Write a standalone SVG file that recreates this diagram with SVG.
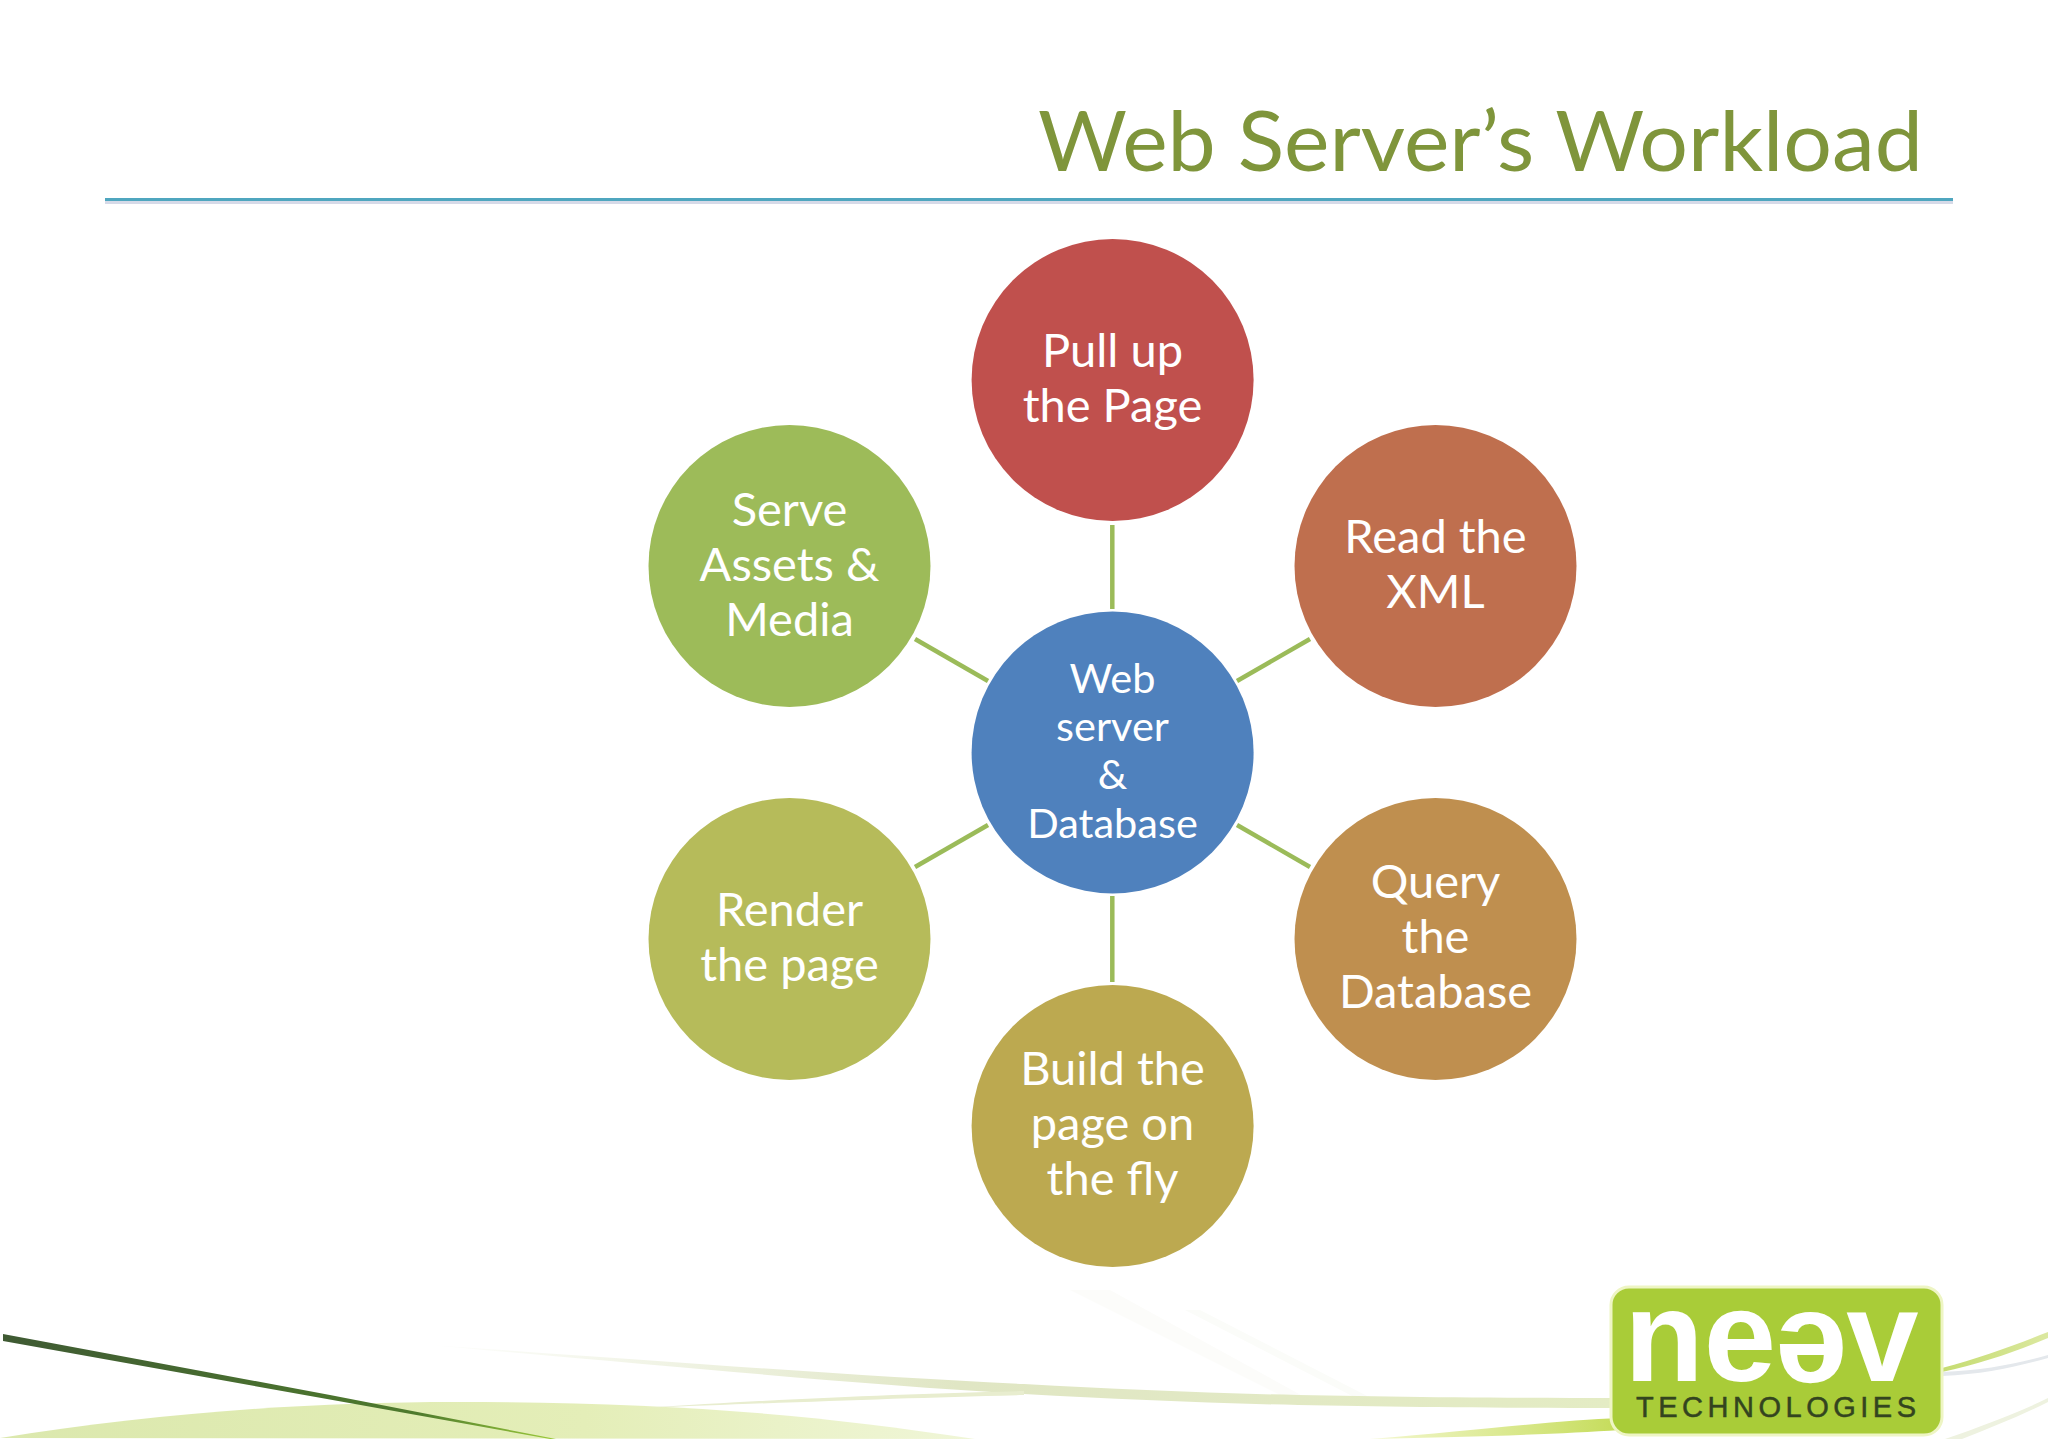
<svg xmlns="http://www.w3.org/2000/svg" width="2048" height="1439" viewBox="0 0 2048 1439">
<style>
text{font-family:"Lato","Carlito","Open Sans",sans-serif;text-anchor:middle;fill:#fff}
.n{font-size:47px}.c{font-size:41.500px}
.t{font-size:83px;fill:#7f953b;text-anchor:start}
.l{font-family:"Liberation Sans",Arial,sans-serif;font-weight:700;font-size:130px}
.s{font-family:"Liberation Sans",Arial,sans-serif;font-size:29px;fill:#33441f;stroke:#33441f;stroke-width:.5px;text-anchor:start}
line{stroke:#9bbb59;stroke-width:4.5}
</style>
<defs>
<linearGradient id="sw" x1="0" x2="1"><stop offset="0" stop-color="#dfe6c8" stop-opacity="0"/><stop offset=".45" stop-color="#e0e6c4"/><stop offset="1" stop-color="#e4ecc4"/></linearGradient>
<linearGradient id="hill" x1="0" x2="1"><stop offset="0" stop-color="#dbe8ad"/><stop offset=".6" stop-color="#e4eeb8"/><stop offset="1" stop-color="#f0f6d8"/></linearGradient>
<linearGradient id="dark" x1="0" x2="1"><stop offset="0" stop-color="#3f5a33"/><stop offset=".75" stop-color="#4e7a2d"/><stop offset="1" stop-color="#9ccb3a"/></linearGradient>
<linearGradient id="yg" x1="0" x2="1"><stop offset="0" stop-color="#f4f8d0"/><stop offset="1" stop-color="#c5dc5a"/></linearGradient>
<linearGradient id="rgt" x1="0" x2="1"><stop offset="0" stop-color="#c5dc70"/><stop offset="1" stop-color="#dbe8a0"/></linearGradient>
</defs>
<rect width="2048" height="1439" fill="#fff"/>
<g id="background">
<path d="M0 1438C150 1414 300 1402 457 1402C650 1402 800 1412 975 1439Z" fill="url(#hill)"/>
<path d="M1070 1290L1290 1400L1310 1400L1110 1290Z" fill="#fcfcfa"/>
<path d="M1185 1310L1360 1400L1375 1400L1200 1310Z" fill="#fbfcf9"/>
<path d="M415 1344C650 1360 850 1376 1024 1384C1200 1394 1350 1398 1620 1398L1620 1408C1350 1408 1200 1404 1024 1394C850 1384 650 1364 415 1344Z" fill="url(#sw)"/>
<path d="M640 1408C800 1398 900 1394 1024 1391L1024 1395C900 1398 800 1402 640 1408Z" fill="#e8edcf"/>
<path d="M1370 1439C1480 1430 1560 1420 1620 1418L1620 1430C1560 1434 1480 1437 1370 1439Z" fill="url(#yg)"/>
<path d="M1942 1368C1980 1358 2015 1345 2048 1332L2048 1338C2015 1352 1980 1364 1942 1372Z" fill="url(#rgt)"/>
<path d="M1942 1372C1985 1370 2015 1364 2048 1355L2048 1358C2015 1367 1985 1374 1942 1376Z" fill="#e4e8ec"/>
<path d="M1945 1439C1985 1425 2020 1412 2048 1398L2048 1402C2020 1416 1990 1428 1962 1439Z" fill="#eef2e0"/>
<path d="M3 1334L330 1395L556 1439L550 1439L327 1399L3 1341Z" fill="url(#dark)"/>
</g>
<g id="title">
<text class="t" x="1038" y="171" textLength="885" lengthAdjust="spacingAndGlyphs">Web Server’s Workload</text>
<rect x="105" y="201" width="1848" height="3" fill="#d6dae8"/>
<rect x="105" y="198" width="1848" height="3" fill="#4fa6bf"/>
</g>
<g id="connectors">
<line x1="1112.300" y1="525" x2="1112.300" y2="609"/>
<line x1="1237" y1="681" x2="1310" y2="639"/>
<line x1="1237" y1="825" x2="1310" y2="867"/>
<line x1="1112.300" y1="896" x2="1112.300" y2="982"/>
<line x1="988" y1="825" x2="915" y2="867"/>
<line x1="988" y1="681" x2="915" y2="639"/>
</g>
<g id="node-center"><circle cx="1112.600" cy="752.500" r="141" fill="#4f81bd"/>
<text class="c" x="1112.500" y="693">Web</text><text class="c" x="1112.500" y="741">server</text><text class="c" x="1112.500" y="789">&amp;</text><text class="c" x="1112.500" y="838">Database</text></g>
<g id="node-pull"><circle cx="1112.600" cy="380" r="141" fill="#c0504d"/>
<text class="n" x="1112.500" y="367">Pull up</text><text class="n" x="1112.500" y="422">the Page</text></g>
<g id="node-read"><circle cx="1435.500" cy="566" r="141" fill="#bf6f4e"/>
<text class="n" x="1435.500" y="553">Read the</text><text class="n" x="1435.500" y="608">XML</text></g>
<g id="node-query"><circle cx="1435.500" cy="939" r="141" fill="#bf8f4f"/>
<text class="n" x="1435.500" y="898">Query</text><text class="n" x="1435.500" y="953">the</text><text class="n" x="1435.500" y="1008">Database</text></g>
<g id="node-build"><circle cx="1112.600" cy="1126" r="141" fill="#bca950"/>
<text class="n" x="1112.500" y="1085">Build the</text><text class="n" x="1112.500" y="1140">page on</text><text class="n" x="1112.500" y="1195">the fly</text></g>
<g id="node-render"><circle cx="789.500" cy="939" r="141" fill="#b6bb5a"/>
<text class="n" x="789.500" y="926">Render</text><text class="n" x="789.500" y="981">the page</text></g>
<g id="node-serve"><circle cx="789.500" cy="566" r="141" fill="#9dbb59"/>
<text class="n" x="789.500" y="526">Serve</text><text class="n" x="789.500" y="581">Assets &amp;</text><text class="n" x="789.500" y="636">Media</text></g>
<g id="logo">
<rect x="1611" y="1287" width="331" height="148" rx="18" fill="#a9cc38" stroke="#eef5c4" stroke-width="3"/>
<text class="l" x="1664" y="1381">n</text>
<text class="l" x="1740" y="1381">e</text>
<text class="l" transform="rotate(180 1811.500 1347)" x="1811.500" y="1381">e</text>
<text class="l" x="1882.500" y="1381">v</text>
<text class="s" x="1636" y="1417" textLength="280">TECHNOLOGIES</text>
</g>
</svg>
